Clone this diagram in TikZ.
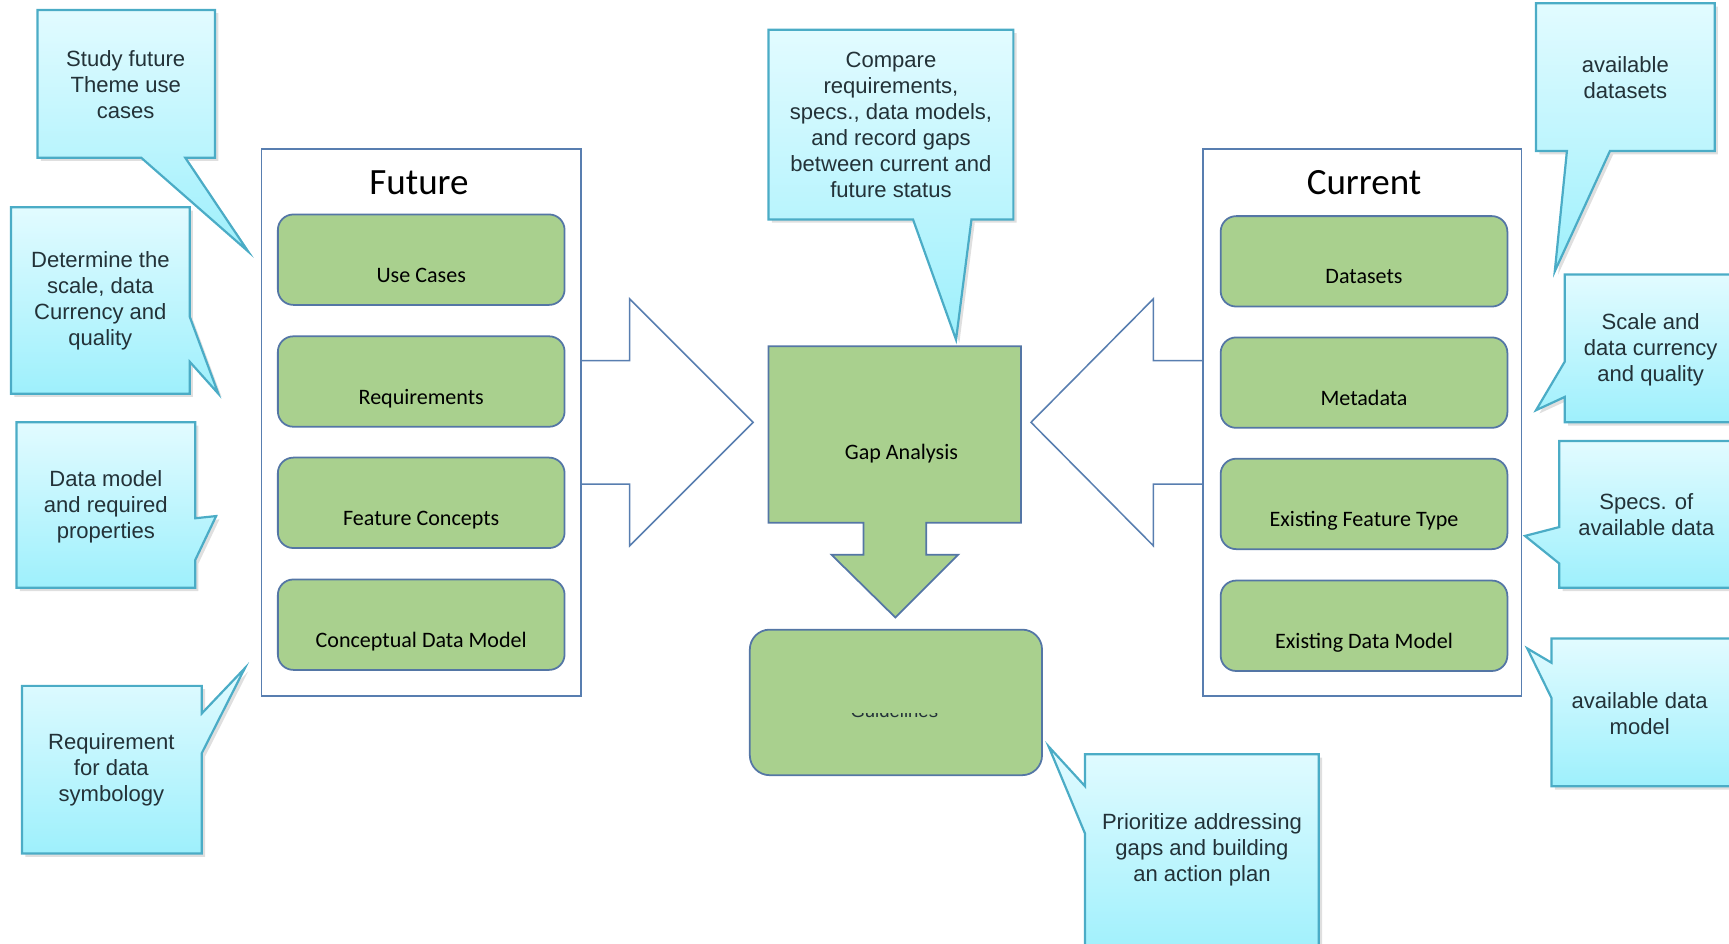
\documentclass[tikz,border=0pt]{standalone}
\usepackage{fontspec}
\setmainfont{Liberation Sans}
\newfontfamily\cajafont{Carlito}
\usetikzlibrary{shadows}

\definecolor{globoborde}{RGB}{75,172,198}
\definecolor{globoarriba}{RGB}{226,251,255}
\definecolor{globoabajo}{RGB}{158,240,252}
\definecolor{verde}{RGB}{169,208,142}
\definecolor{verdeborde}{RGB}{84,118,165}
\definecolor{marco}{RGB}{88,126,176}
\definecolor{letraglobo}{RGB}{35,50,56}

\tikzset{
  globo/.style={draw=globoborde, line width=1pt, top color=globoarriba, bottom color=globoabajo,
    drop shadow={opacity=0.25, shadow xshift=1.5pt, shadow yshift=-1.5pt}},
  textoglobo/.style={text=letraglobo, align=center, font=\fontsize{10}{11.8}\selectfont},
  panel/.style={draw=marco, line width=0.7pt, fill=white},
  flecha/.style={draw=marco, line width=0.7pt, fill=white},
  verdefondo/.style={draw=verdeborde, line width=0.8pt, fill=verde},
  caja/.style={verdefondo, rounded corners=7pt, minimum width=130pt, minimum height=41pt,
    text height=20.5pt, text depth=0pt, font=\cajafont\fontsize{10}{12}\selectfont},
  titulo/.style={font=\cajafont\fontsize{16.8}{20}\selectfont}
}

\begin{document}
\begin{tikzpicture}[x=0.5pt, y=-0.5pt]
    \useasboundingbox (0,0) rectangle (1568,856);
    \clip (0,0) rectangle (1568,856);

    % Flechas grandes
    \draw[flecha] (527,327) -- (571,327) -- (571,271) -- (683,383) -- (571,495) -- (571,439) -- (527,439) -- cycle;
    \draw[flecha] (1091,327) -- (1046,327) -- (1046,271) -- (935,383) -- (1046,495) -- (1046,439) -- (1091,439) -- cycle;

    % Paneles
    \draw[panel] (237,135) rectangle (527,631);
    \draw[panel] (1091,135) rectangle (1380,631);
    \node[titulo] (futuro) at (380,166) {Future};
    \node[titulo] (actual) at (1237,166) {Current};

    % Cajas de la izquierda
    \node[caja] (casos) at (382,235.5) {Use Cases};
    \node[caja] (requisitos) at (382,346) {Requirements};
    \node[caja] (conceptos) at (382,456) {Feature Concepts};
    \node[caja] (modelofut) at (382,566.5) {Conceptual Data Model};

    % Cajas de la derecha
    \node[caja] (datos) at (1237,237) {Datasets};
    \node[caja] (metadatos) at (1237,347) {Metadata};
    \node[caja] (tipos) at (1237,457) {Existing Feature Type};
    \node[caja] (modeloact) at (1237,567.5) {Existing Data Model};

    % Analisis
    \draw[verdefondo] (697,314) -- (926,314) -- (926,474) -- (840,474) -- (840,503) -- (869,503)
      -- (812,560) -- (754,503) -- (783,503) -- (783,474) -- (697,474) -- cycle;
    \node[anchor=base, font=\cajafont\fontsize{10}{12}\selectfont] (brecha) at (817.5,417) {Gap Analysis};
    \node[caja, minimum width=132.5pt, minimum height=66pt, rounded corners=9pt] (guias) at (812.5,637) {};
    \begin{scope}
      \clip (690,647) rectangle (935,660);
      \node[anchor=base, text=letraglobo, font=\fontsize{8.4}{10}\selectfont] (guiastexto) at (811,651) {Guidelines};
    \end{scope}

    % Globos
    \path[globo] (34,9) -- (195,9) -- (195,143) -- (168,143) -- (225,228) -- (128,143) -- (34,143) -- cycle;
    \node[textoglobo] (estudio) at (114,77) {Study future\\Theme use\\cases};

    \path[globo] (10,188) -- (172,188) -- (172,287) -- (198,357) -- (172,328) -- (172,357) -- (10,357) -- cycle;
    \node[textoglobo] (escala) at (91,272.5) {Determine the\\scale, data\\Currency and\\quality};

    \path[globo] (15,383) -- (177,383) -- (177,470) -- (196,468) -- (177,508) -- (177,533) -- (15,533) -- cycle;
    \node[textoglobo] (modelo) at (96,459.5) {Data model\\and required\\properties};

    \path[globo] (20,622) -- (183,622) -- (183,647) -- (222,606) -- (183,683) -- (183,774) -- (20,774) -- cycle;
    \node[textoglobo] (simbologia) at (101,698.5) {Requirement\\for data\\symbology};

    \path[globo] (697,27) -- (919,27) -- (919,199) -- (881,199) -- (867,308) -- (828,199) -- (697,199) -- cycle;
    \node[textoglobo] (comparar) at (808,113.5) {Compare\\requirements,\\specs., data models,\\and record gaps\\between current and\\future status};

    \path[globo] (1393,3) -- (1555,3) -- (1555,137) -- (1460,137) -- (1410,246) -- (1421,137) -- (1393,137) -- cycle;
    \node[textoglobo] (disponibles) at (1474,70) {available\\datasets};

    \path[globo] (1419,249) -- (1580,249) -- (1580,383) -- (1419,383) -- (1419,360) -- (1393,372) -- (1419,328) -- cycle;
    \node[textoglobo] (calidad) at (1497,317) {Scale and\\data currency\\and quality};

    \path[globo] (1414,400) -- (1580,400) -- (1580,533) -- (1414,533) -- (1414,511) -- (1383,486) -- (1414,478) -- cycle;
    \node[textoglobo] (especs) at (1493,467) {Specs. of\\available data};

    \path[globo] (1407,579) -- (1580,579) -- (1580,713) -- (1407,713) -- (1407,633) -- (1385,588) -- (1407,601) -- cycle;
    \node[textoglobo] (modelodisp) at (1487,647) {available data\\model};

    \path[globo] (984,684) -- (1196,684) -- (1196,870) -- (984,870) -- (984,756) -- (951,677) -- (984,713) -- cycle;
    \node[textoglobo] (prioridad) at (1090,771) {Prioritize addressing\\gaps and building\\an action plan};

\end{tikzpicture}
\end{document}
